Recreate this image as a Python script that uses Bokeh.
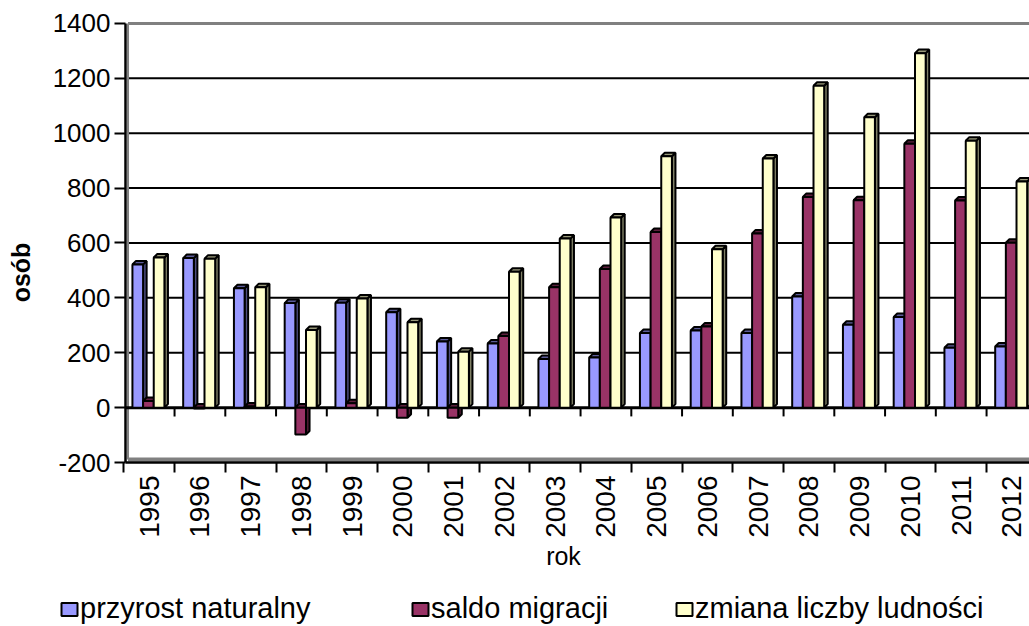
import math

from bokeh.plotting import figure
from bokeh.models import (Range1d, FixedTicker, Label, Legend, LegendItem)
from bokeh.embed import file_html
from bokeh.resources import INLINE

# Population change by year (persons)
years = [str(y) for y in range(1995, 2013)]
przyrost_naturalny = [522, 545, 435, 381, 382, 348, 241, 234, 177, 183, 272, 281, 272, 405, 302, 330, 218, 223]
saldo_migracji = [24, -3, 4, -98, 16, -37, -37, 261, 439, 505, 640, 296, 635, 768, 756, 962, 755, 601]
zmiana_liczby_ludnosci = [547, 543, 439, 283, 398, 311, 204, 495, 616, 693, 916, 577, 908, 1173, 1058, 1292, 973, 824]

series_names = ["przyrost naturalny", "saldo migracji", "zmiana liczby ludności"]
y_ticks = [-200, 0, 200, 400, 600, 800, 1000, 1200, 1400]
grid_values = [200, 400, 600, 800, 1000, 1200]

FONT = "Liberation Sans"

# colours: front face, side face, top face
front_colors = ["#9999FF", "#993366", "#FFFFCC"]
side_colors = ["#4D4D80", "#4D1A33", "#808066"]
top_colors = ["#5C5C99", "#5C1F3D", "#99997A"]

# bar layout inside one category (category centre at integer x)
BAR_W = 0.21
GROUP_LEFT = -0.33
DX = 0.07     # depth offset, category units
DY = 12.8     # depth offset, value units

n = len(years)
Y_MIN, Y_MAX = -200, 1400
X_AXIS_POS = -0.4665      # where the value axis stands
X_WALL = -0.417           # left edge of the back wall
X_END = 17.346            # right edge of the visible area
FLOOR = -189              # grey floor edge

# the frame covers the whole canvas; axes are pinned inside it
p = figure(width=1029, height=626, output_backend="svg", toolbar_location=None,
           x_range=Range1d(-2.9296, X_END), y_range=Range1d(-797.7, 1483.8),
           min_border=0, outline_line_color=None,
           background_fill_color="white", border_fill_color="white")
p.xgrid.visible = False
p.ygrid.visible = False

# back wall grid lines
k_grid = len(grid_values)
p.segment(x0=[X_WALL] * k_grid, y0=grid_values, x1=[X_END] * k_grid, y1=grid_values,
          line_color="black", line_width=2)
# grey wall edges: top, left, floor
p.segment(x0=[X_WALL, X_WALL, X_WALL], y0=[Y_MAX, FLOOR, FLOOR],
          x1=[X_END, X_WALL, X_END], y1=[Y_MAX, Y_MAX, FLOOR],
          line_color="#808080", line_width=[3, 2, 4])
# zero line
p.segment(x0=[X_AXIS_POS], y0=[0], x1=[X_END], y1=[0], line_color="black", line_width=3)

# small ticks under the zero line at category boundaries
bounds = [i + 0.5 for i in range(n)]
p.segment(x0=bounds, y0=[0] * n, x1=bounds, y1=[-32] * n,
          line_color="black", line_width=2)

front_renderers = []
for k, vals in enumerate([przyrost_naturalny, saldo_migracji, zmiana_liczby_ludnosci]):
    x0 = [i + GROUP_LEFT + k * BAR_W for i in range(n)]
    x1 = [x + BAR_W for x in x0]
    bot = [min(v, 0) for v in vals]
    top = [max(v, 0) for v in vals]

    side_xs = [[a, a + DX, a + DX, a] for a in x1]
    side_ys = [[b, b + DY, t + DY, t] for b, t in zip(bot, top)]
    top_xs = [[a, a + DX, c + DX, c] for a, c in zip(x0, x1)]
    top_ys = [[t, t + DY, t + DY, t] for t in top]

    p.patches(xs=side_xs, ys=side_ys, fill_color=side_colors[k],
              line_color="black", line_width=2)
    p.patches(xs=top_xs, ys=top_ys, fill_color=top_colors[k],
              line_color="black", line_width=2)
    r = p.quad(left=x0, right=x1, bottom=bot, top=top,
               fill_color=front_colors[k], line_color="black", line_width=2)
    front_renderers.append(r)

# value axis
yax = p.yaxis[0]
yax.fixed_location = X_AXIS_POS
yax.bounds = (Y_MIN, Y_MAX)
yax.ticker = FixedTicker(ticks=y_ticks)
yax.major_label_overrides = {t: str(t) for t in y_ticks}
yax.axis_line_color = "black"
yax.axis_line_width = 2.5
yax.major_tick_out = 11
yax.major_tick_in = 0
yax.major_tick_line_width = 2
yax.minor_tick_out = 0
yax.minor_tick_in = 0
yax.major_label_standoff = 4
yax.major_label_text_font = FONT
yax.major_label_text_font_size = "26px"
yax.major_label_text_color = "black"

# category axis: labels at centres, ticks at boundaries
xax = p.xaxis[0]
xax.fixed_location = Y_MIN
xax.bounds = (X_AXIS_POS, X_END)
xax.ticker = FixedTicker(ticks=list(range(n)),
                         minor_ticks=[i - 0.5 for i in range(n + 1)])
xax.major_label_overrides = {i: years[i] for i in range(n)}
xax.axis_line_color = "black"
xax.axis_line_width = 2.5
xax.major_tick_out = 0
xax.major_tick_in = 0
xax.minor_tick_out = 10
xax.minor_tick_in = 0
xax.minor_tick_line_width = 2
xax.minor_tick_line_color = "black"
xax.major_label_orientation = math.pi / 2
xax.major_label_standoff = 3
xax.major_label_text_font = FONT
xax.major_label_text_font_size = "28px"
xax.major_label_text_color = "black"

# axis titles (screen units from the bottom-left corner)
p.add_layout(Label(x=20, y=354, x_units="screen", y_units="screen", text="osób",
                   angle=math.pi / 2, text_align="center", text_baseline="alphabetic",
                   text_font=FONT, text_font_style="bold", text_font_size="25px",
                   text_color="black"))
p.add_layout(Label(x=563, y=71, x_units="screen", y_units="screen", text="rok",
                   text_align="center", text_baseline="alphabetic",
                   text_font=FONT, text_font_size="25px", text_color="black"))

# legend entries along the bottom
legend_x = [59, 410, 674]
for k in range(3):
    leg = Legend(items=[LegendItem(label=series_names[k], renderers=[front_renderers[k]])],
                 location=(legend_x[k], 1), orientation="horizontal",
                 glyph_width=20, glyph_height=16, label_standoff=1,
                 padding=0, margin=0, spacing=0,
                 border_line_color=None, background_fill_alpha=0,
                 label_text_font=FONT, label_text_font_size="29px",
                 label_text_color="black")
    p.add_layout(leg)

open("out.html", "w").write(file_html(p, INLINE))
